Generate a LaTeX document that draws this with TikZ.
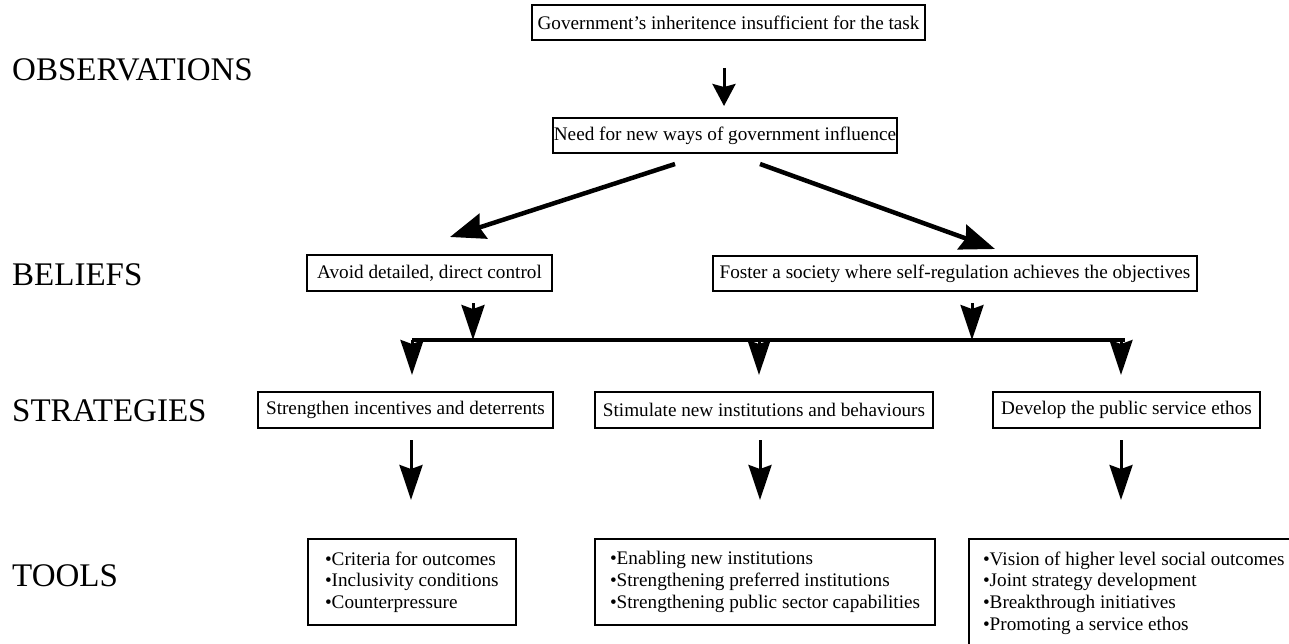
\documentclass[tikz,border=0pt]{standalone}
\usepackage{fontspec}
\setmainfont{Liberation Serif}
\usetikzlibrary{arrows.meta}
\begin{document}
\begin{tikzpicture}[x=1pt,y=-1pt,
  lbl/.style={anchor=base west,inner sep=0pt,font=\fontsize{33}{36}\selectfont},
  box/.style={draw,line width=2pt,inner sep=0pt,font=\fontsize{19.2}{21.8}\selectfont},
  toolbox/.style={draw,line width=2pt,inner xsep=15pt,inner ysep=12.5pt,align=left,anchor=north west,font=\fontsize{19.2}{21.8}\selectfont},
  arrtop/.style={line width=3pt,-{Stealth[length=22pt,width=23pt,inset=3pt]}},
  arrv/.style={line width=3pt,-{Stealth[length=35pt,width=23pt,inset=4pt]}},
  diag/.style={line width=4.5pt,-{Stealth[length=35pt,width=26pt,inset=4pt]}},
  bus/.style={line width=4pt}]
\useasboundingbox (0,0) rectangle (1289,644);
% row labels
\node[lbl] (lo) at (12,81) {OBSERVATIONS};
\node[lbl] (lb) at (12,285) {BELIEFS};
\node[lbl] (ls) at (12,421) {STRATEGIES};
\node[lbl] (lt) at (12,586) {TOOLS};
% boxes
\node[box,minimum width=393pt,minimum height=35pt] (n1) at (728.5,22.5) {Government’s inheritence insufficient for the task};
\node[box,minimum width=344pt,minimum height=35pt] (n2) at (725,135.5) {Need for new ways of government influence};
\node[box,minimum width=245pt,minimum height=36pt] (avoid) at (429.5,273) {Avoid detailed, direct control};
\node[box,minimum width=484pt,minimum height=35pt] (foster) at (955,273.5) {Foster a society where self-regulation achieves the objectives};
\node[box,minimum width=295pt,minimum height=36pt] (s1) at (405.5,410) {Strengthen incentives and deterrents};
\node[box,minimum width=338pt,minimum height=36pt] (s2) at (764,410) {Stimulate new institutions and behaviours};
\node[box,minimum width=267pt,minimum height=36pt] (s3) at (1126.5,410) {Develop the public service ethos};
\node[toolbox,inner xsep=17pt,minimum width=204pt] (t1) at (307,538) {•Criteria for outcomes\\•Inclusivity conditions\\•Counterpressure};
\node[toolbox,minimum width=335pt] (t2) at (594,538) {•Enabling new institutions\\•Strengthening preferred institutions\\•Strengthening public sector capabilities};
\node[toolbox,inner xsep=14pt] (t3) at (968,538) {•Vision of higher level social outcomes\\•Joint strategy development\\•Breakthrough initiatives\\•Promoting a service ethos};
% top arrow
\coordinate (tx) at (724,0);
\draw[arrtop,shorten <=27pt,shorten >=11pt] (n1.south -| tx) -- (n2.north -| tx);
% diagonals
\coordinate (d1s) at ([xshift=-50pt,yshift=-10pt]n2.south);
\coordinate (d1e) at ([xshift=20.5pt,yshift=17pt]avoid.north);
\coordinate (d2s) at ([xshift=35pt,yshift=-10pt]n2.south);
\coordinate (d2e) at ([xshift=40pt,yshift=6pt]foster.north);
\draw[diag] (d1s) -- (d1e);
\draw[diag] (d2s) -- (d2e);
% bus
\coordinate (busL) at (412,340);
\coordinate (busR) at (1125,340);
\coordinate (j1) at (473,340);
\coordinate (j2) at (972,340);
\coordinate (b1) at (412,340);
\coordinate (b2) at (759,340);
\coordinate (b3) at (1121,340);
\draw[bus] (busL) -- (busR);
\draw[arrv,shorten <=11pt] (avoid.south -| j1) -- (j1);
\draw[arrv,shorten <=11pt] (foster.south -| j2) -- (j2);
\draw[arrv,shorten >=16pt] (b1) -- (s1.north -| b1);
\draw[arrv,shorten >=16pt] (b2) -- (s2.north -| b2);
\draw[arrv,shorten >=16pt] (b3) -- (s3.north -| b3);
% strategy to tools
\coordinate (a1) at (411,0);
\coordinate (a2) at (760,0);
\coordinate (a3) at (1121,0);
\draw[arrv,shorten <=11pt,shorten >=38pt] (s1.south -| a1) -- (t1.north -| a1);
\draw[arrv,shorten <=11pt,shorten >=38pt] (s2.south -| a2) -- (t2.north -| a2);
\draw[arrv,shorten <=11pt,shorten >=38pt] (s3.south -| a3) -- (t3.north -| a3);
\end{tikzpicture}
\end{document}
